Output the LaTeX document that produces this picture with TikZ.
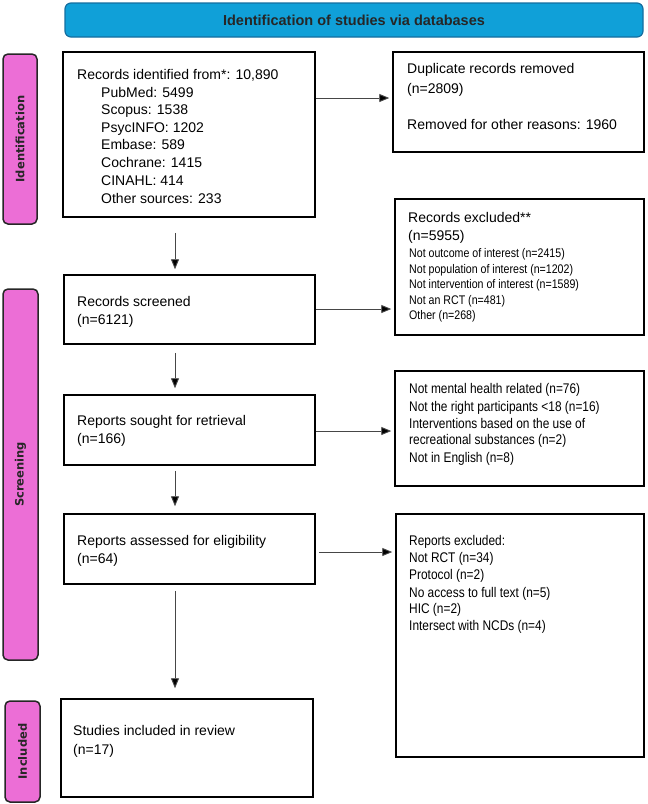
\documentclass[tikz,border=0pt]{standalone}
\usepackage{fontspec}
\setmainfont{Liberation Sans}
\newfontfamily\narrowfont[FakeStretch=0.85]{Liberation Sans}
\newfontfamily\tabfont{DejaVu Sans}
\usetikzlibrary{arrows.meta}
\definecolor{bannerblue}{RGB}{16,160,216}
\definecolor{bannerline}{RGB}{20,110,160}
\definecolor{tabpink}{RGB}{236,110,214}
\definecolor{arrowgray}{RGB}{70,70,70}
\begin{document}
\begin{tikzpicture}[x=1pt,y=-1pt,
  box/.style={draw=black, line width=1.5pt, fill=white, inner sep=0pt},
  tabbox/.style={draw=black!85, line width=1.5pt, fill=tabpink, rounded corners=5pt, inner sep=0pt},
  maintxt/.style={anchor=base west, inner sep=0pt, font=\fontsize{14}{17}\selectfont},
  smalltxt/.style={anchor=base west, inner sep=0pt, font=\narrowfont\fontsize{12.5}{15}\selectfont},
  midtxt/.style={anchor=base west, inner sep=0pt, font=\narrowfont\fontsize{14}{17}\selectfont},
  tablabel/.style={rotate=90, inner sep=0pt, font=\tabfont\bfseries\fontsize{11.5}{14}\selectfont, text=black!85},
  arr/.style={draw=arrowgray, line width=0.9pt, -{Triangle[length=10pt,width=8pt,fill=black]}},
]
\useasboundingbox (0,0) rectangle (648,804);

% banner
\node[draw=bannerline, line width=1.2pt, fill=bannerblue, rounded corners=6pt,
      minimum width=578pt, minimum height=34pt, inner sep=0pt,
      font=\bfseries\fontsize{14.5}{17}\selectfont, text=black!85] (banner) at (354,20)
      {Identification of studies via databases};

% side tabs
\node[tabbox, minimum width=34pt, minimum height=170pt] (tabid) at (20,139) {};
\node[tabbox, minimum width=35pt, minimum height=371pt] (tabscr) at (20.5,474.5) {};
\node[tabbox, minimum width=35pt, minimum height=101pt] (tabinc) at (22.5,751.5) {};
\node[tablabel] (lblid) at (tabid.center) {Identification};
\node[tablabel] (lblscr) at (tabscr.center) {Screening};
\node[tablabel] (lblinc) at (tabinc.center) {Included};

% boxes
\node[box, minimum width=252pt, minimum height=165pt] (rec) at (189,134.5) {};
\node[box, minimum width=251pt, minimum height=100pt] (dup) at (518.5,102) {};
\node[box, minimum width=251pt, minimum height=69pt] (scr) at (189.5,309.5) {};
\node[box, minimum width=249pt, minimum height=136pt] (excl) at (519.5,267) {};
\node[box, minimum width=251pt, minimum height=70pt] (sought) at (189.5,430) {};
\node[box, minimum width=249pt, minimum height=115pt] (notm) at (519.5,428.5) {};
\node[box, minimum width=251pt, minimum height=70pt] (assess) at (189.5,549) {};
\node[box, minimum width=248pt, minimum height=243pt] (repex) at (520,635.5) {};
\node[box, minimum width=252pt, minimum height=98pt] (incl) at (187,748) {};

% texts: records identified
\node[maintxt] (t1) at (77,79) {Records identified from*: 10,890};
\node[maintxt] (t2) at (101,97) {PubMed: 5499};
\node[maintxt] (t3) at (101,114.5) {Scopus: 1538};
\node[maintxt] (t4) at (101,132) {PsycINFO: 1202};
\node[maintxt] (t5) at (101,149.5) {Embase: 589};
\node[maintxt] (t6) at (101,167) {Cochrane: 1415};
\node[maintxt] (t7) at (101,185) {CINAHL: 414};
\node[maintxt] (t8) at (101,203) {Other sources: 233};

% duplicates
\node[maintxt] (d1) at (407,73) {Duplicate records removed};
\node[maintxt] (d2) at (407,93) {(n=2809)};
\node[maintxt] (d3) at (407,129) {Removed for other reasons: 1960};

% records excluded
\node[maintxt] (e1) at (408,222) {Records excluded**};
\node[maintxt] (e2) at (408,240) {(n=5955)};
\node[smalltxt] (e3) at (409,257.5) {Not outcome of interest (n=2415)};
\node[smalltxt] (e4) at (409,273.5) {Not population of interest (n=1202)};
\node[smalltxt] (e5) at (409,288.5) {Not intervention of interest (n=1589)};
\node[smalltxt] (e6) at (409,304) {Not an RCT (n=481)};
\node[smalltxt] (e7) at (409,319.5) {Other (n=268)};

% screened
\node[maintxt] (s1) at (77,306) {Records screened};
\node[maintxt] (s2) at (77,324) {(n=6121)};

% not mental
\node[midtxt] (n1) at (409,393) {Not mental health related (n=76)};
\node[midtxt] (n2) at (409,411) {Not the right participants <18 (n=16)};
\node[midtxt] (n3) at (409,428) {Interventions based on the use of};
\node[midtxt] (n4) at (409,444) {recreational substances (n=2)};
\node[midtxt] (n5) at (409,462) {Not in English (n=8)};

% sought
\node[maintxt] (r1) at (77,425) {Reports sought for retrieval};
\node[maintxt] (r2) at (77,443) {(n=166)};

% assessed
\node[maintxt] (a1) at (77,545) {Reports assessed for eligibility};
\node[maintxt] (a2) at (77,563) {(n=64)};

% reports excluded
\node[midtxt] (x1) at (409,545) {Reports excluded:};
\node[midtxt] (x2) at (409,562) {Not RCT (n=34)};
\node[midtxt] (x3) at (409,579) {Protocol (n=2)};
\node[midtxt] (x4) at (409,597) {No access to full text (n=5)};
\node[midtxt] (x5) at (409,613) {HIC (n=2)};
\node[midtxt] (x6) at (409,630) {Intersect with NCDs (n=4)};

% included
\node[maintxt] (i1) at (73,735) {Studies included in review};
\node[maintxt] (i2) at (73,754) {(n=17)};

% connector guides
\coordinate (ax) at (175,0);
\coordinate (h1) at (0,98);
\coordinate (h2) at (0,309);
\coordinate (h3) at (0,431);
\coordinate (h4) at (0,552);

% vertical arrows
\draw[arr, shorten <=15pt, shorten >=5pt] (rec.south -| ax) -- (scr.north -| ax);
\draw[arr, shorten <=8pt, shorten >=6pt] (scr.south -| ax) -- (sought.north -| ax);
\draw[arr, shorten <=5pt, shorten >=7pt] (sought.south -| ax) -- (assess.north -| ax);
\draw[arr, shorten <=6pt, shorten >=10pt] (assess.south -| ax) -- (incl.north -| ax);

% horizontal arrows
\draw[arr, shorten >=3pt] (rec.east |- h1) -- (dup.west |- h1);
\draw[arr, shorten >=3pt] (scr.east |- h2) -- (excl.west |- h2);
\draw[arr, shorten >=3pt] (sought.east |- h3) -- (notm.west |- h3);
\draw[arr, shorten <=3pt, shorten >=3pt] (assess.east |- h4) -- (repex.west |- h4);
\end{tikzpicture}
\end{document}
